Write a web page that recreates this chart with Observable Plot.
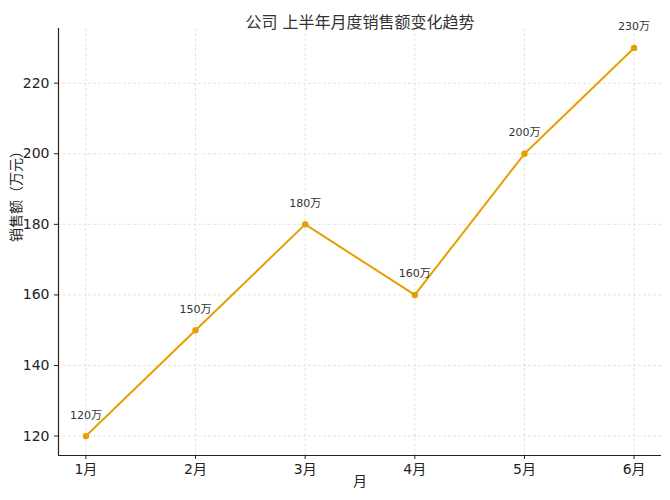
<!DOCTYPE html>
<html>
<head>
<meta charset="utf-8">
<script src="https://cdn.jsdelivr.net/npm/d3@7"></script>
<script src="https://cdn.jsdelivr.net/npm/@observablehq/plot@0.6"></script>
<style>
  body { margin: 0; background: #fff; }
  #chart svg { font-family: "DejaVu Sans", "Noto Sans CJK SC", sans-serif; }
</style>
</head>
<body>
<div id="chart"></div>
<script>
const months = [1, 2, 3, 4, 5, 6];
const sales = [120, 150, 180, 160, 200, 230];
const yTicks = [120, 140, 160, 180, 200, 220];
const title = "公司 上半年月度销售额变化趋势";
const yLabel = "销售额（万元）";
const xLabel = "月";

const data = months.map((m, i) => ({month: m, value: sales[i], label: sales[i] + "万"}));

const p = Plot.plot({
  width: 670,
  height: 500,
  marginLeft: 58,
  marginRight: 9,
  marginTop: 28,
  marginBottom: 45,
  style: {fontSize: "14px", color: "#222"},
  x: {domain: [0.75, 6.25], label: null},
  y: {domain: [114.5, 235.5], label: null},
  marks: [
    Plot.gridX(months, {stroke: "#d0d0d0", strokeOpacity: 1, strokeDasharray: "3,2", strokeWidth: 0.6}),
    Plot.gridY(yTicks, {stroke: "#d0d0d0", strokeOpacity: 1, strokeDasharray: "3,2", strokeWidth: 0.6}),
    Plot.axisX({ticks: months, tickFormat: d => d + "月", tickSize: 4, fontSize: 14, label: null}),
    Plot.axisY({ticks: yTicks, tickSize: 4, fontSize: 14, label: null}),
    Plot.ruleY([114.5], {stroke: "#222", strokeWidth: 1.2}),
    Plot.ruleX([0.75], {stroke: "#222", strokeWidth: 1.2}),
    Plot.line(data, {x: "month", y: "value", stroke: "#e69f00", strokeWidth: 2}),
    Plot.dot(data, {x: "month", y: "value", fill: "#e69f00", r: 3.2}),
    Plot.text(data, {x: "month", y: "value", text: "label", dy: -21, fontSize: 11, fill: "#333"}),
    Plot.text([title], {frameAnchor: "top", dy: -12, fontSize: 16, fill: "#333"}),
    Plot.text([xLabel], {frameAnchor: "bottom", dy: 30, fontSize: 14, fill: "#222"}),
    Plot.text([yLabel], {frameAnchor: "left", dx: -42, rotate: -90, fontSize: 14, fill: "#222"})
  ]
});

document.querySelector("#chart").append(p);
</script>
</body>
</html>
